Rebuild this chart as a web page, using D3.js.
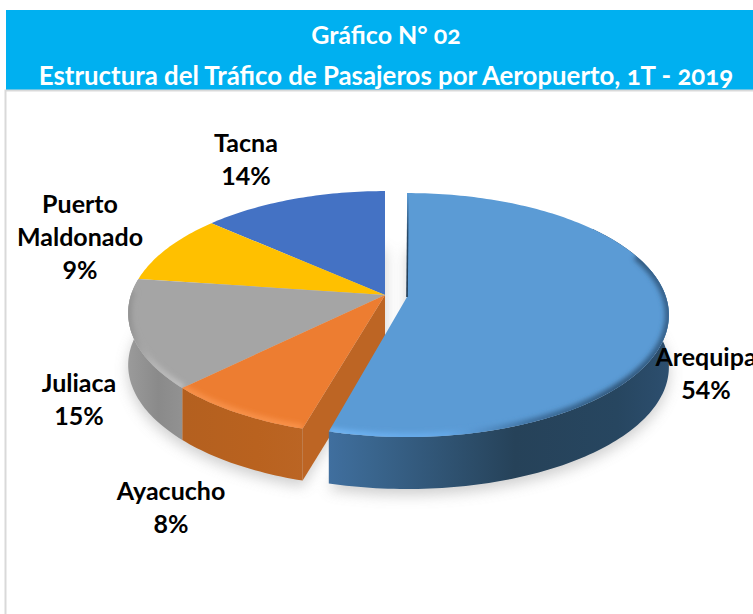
<!DOCTYPE html>
<html><head><meta charset="utf-8">
<script src="https://cdn.jsdelivr.net/npm/d3@7"></script>
<style>html,body{margin:0;padding:0;background:#fff;overflow:hidden}svg{display:block}
text{font-family:Lato,"Open Sans",sans-serif;font-weight:700}</style></head><body>
<script>
const titleLines = ["Gráfico N° 02", "Estructura del Tráfico de Pasajeros por Aeropuerto, 1T - 2019"];
const categories = ["Arequipa", "Ayacucho", "Juliaca", "Puerto Maldonado", "Tacna"];
const shares = [54.49, 8.2, 14.51, 9.3, 13.51];
const topColors = ["#5b9bd5", "#ed7d31", "#a5a5a5", "#ffc000", "#4472c4"];

const W = 753, H = 614;
const svg = d3.select("body").append("svg").attr("width", W).attr("height", H);
const defs = svg.append("defs");
["blur3:2.4", "blur8:7"].forEach(s => {
  const [id, dev] = s.split(":");
  defs.append("filter").attr("id", id).attr("x", "-20%").attr("y", "-20%").attr("width", "140%").attr("height", "140%")
    .append("feGaussianBlur").attr("stdDeviation", dev);
});
function grad(id, x1, x2, stops, y1 = 0, y2 = 0) {
  const g = defs.append("linearGradient").attr("id", id).attr("gradientUnits", "userSpaceOnUse")
    .attr("x1", x1).attr("x2", x2).attr("y1", y1).attr("y2", y2);
  stops.forEach(([o, c, a]) => g.append("stop").attr("offset", o).attr("stop-color", c).attr("stop-opacity", a === undefined ? 1 : a));
}
grad("wall0", 328, 668, [[0, "#406f9f"], [.12, "#3a668f"], [.55, "#264259"], [.85, "#274660"], [1, "#2c4e6e"]]);
grad("wall1", 185, 305, [[0, "#b4601f"], [.6, "#b9621f"], [1, "#bb6524"]]);
grad("wall2", 127, 190, [[0, "#9b9b9b"], [.5, "#8a8a8a"], [1, "#949494"]]);
grad("bevel0", 328, 668, [[0, "#6fb3f2"], [.35, "#64a8e8"], [.6, "#3d6e9c"], [.85, "#2f5578"], [1, "#355f88"]]);
grad("bevel1", 185, 305, [[0, "#f79048"], [1, "#f9924a"]]);
grad("bevel2", 127, 190, [[0, "#8f8f8f"], [.4, "#b5b5b5"], [1, "#c4c4c4"]]);
grad("cutLine", 0, 0, [[0, "#24405a", 0], [.4, "#24405a", .9], [1, "#1f3850", 1]], 193, 297);

const g = svg.append("g");
// page furniture
g.append("rect").attr("x", 6).attr("y", 10).attr("width", W - 6).attr("height", 80).attr("fill", "#00b0f0");
g.append("path").attr("d", `M5.5,${H}V90.5H${W}`).attr("fill", "none").attr("stroke", "#d9d9d9").attr("stroke-width", 2);
g.selectAll("text.title").data(titleLines).join("text").attr("class", "title")
  .attr("x", 386).attr("y", (d, i) => i ? 85 : 44).attr("text-anchor", "middle")
  .attr("fill", "#fff").attr("font-size", (d, i) => i ? 25.8 : 25)
  .style("font-feature-settings", '"onum"').text(d => d);

// tilted disc with mild perspective
const RY = 119.3, PERSP = 0.148, DEPTH = 52;
const sliceCentre = i => i === 0 ? [407, 297, 259] : [385, 295, 254];
function proj(c, a, r = 1, dy = 0) {
  const u = Math.sin(a) * r, v = -Math.cos(a) * r, f = 1 / (1 - PERSP * v);
  return [c[0] + c[2] * u * f, c[1] + RY * v * f + dy];
}
const samples = (a0, a1) => { const n = Math.max(2, Math.ceil(Math.abs(a1 - a0) / 0.02)); return d3.range(n + 1).map(i => a0 + (a1 - a0) * i / n); };
const line = d3.line();
const arcPts = (c, a0, a1, dy = 0) => samples(a0, a1).map(a => proj(c, a, 1, dy));
const slices = d3.pie().sort(null).value(d => d)(shares);
slices[0].endAngle -= 0.02; // small pad on the exploded slice

// soft ground shadow
const shadow = g.append("g").attr("filter", "url(#blur8)").attr("opacity", .42);
slices.forEach((s, i) => {
  const c = sliceCentre(i);
  shadow.append("path").attr("fill", "#8c8c8c")
    .attr("d", line([[c[0], c[1] + DEPTH], ...arcPts(c, s.startAngle, s.endAngle, DEPTH + 6)]) + "Z");
});

function wall(i, a0, a1, fill) {
  const c = sliceCentre(i);
  g.append("path").attr("fill", fill)
    .attr("d", line([...arcPts(c, a0, a1), ...arcPts(c, a0, a1, DEPTH).reverse()]) + "Z");
}
function topFace(i) {
  const s = slices[i], c = sliceCentre(i);
  const d = line([c, ...arcPts(c, s.startAngle, s.endAngle)]) + "Z";
  g.append("clipPath").attr("id", "clip" + i).append("path").attr("d", d);
  g.append("path").attr("d", d).attr("fill", topColors[i]);
  if (i <= 2) {
    const a1 = i === 2 ? Math.min(s.endAngle, 4.75) : s.endAngle;
    g.append("g").attr("clip-path", `url(#clip${i})`).append("path")
      .attr("d", line(arcPts(c, i === 0 ? 1.2 : s.startAngle, a1)))
      .attr("fill", "none").attr("stroke", `url(#bevel${i})`).attr("stroke-width", 8)
      .attr("filter", "url(#blur3)");
  }
}

// minor slices: walls, then their top faces
wall(2, slices[2].startAngle, slices[2].endAngle, "url(#wall2)");
wall(1, slices[1].startAngle, slices[1].endAngle, "url(#wall1)");
{
  const c = sliceCentre(1), a = slices[1].startAngle, p = proj(c, a);
  g.append("path").attr("fill", "#bd6524")
    .attr("d", line([c, p, [p[0], p[1] + DEPTH], [c[0], c[1] + DEPTH]]) + "Z");
}
[4, 3, 2, 1].forEach(topFace);

// Arequipa, exploded slice
wall(0, 0.9, slices[0].endAngle, "url(#wall0)");
topFace(0);
{
  const c = sliceCentre(0), p = proj(c, slices[0].startAngle);
  g.append("path").attr("d", line([[p[0] + 1, p[1]], c])).attr("stroke", "url(#cutLine)").attr("stroke-width", 1.6).attr("fill", "none");
}

// labels
const labelAnchors = [[706, 366], [171, 500], [79, 392], [80, 213], [246, 152]];
const wrapped = ["Arequipa", "Ayacucho", "Juliaca", "Puerto|Maldonado", "Tacna"];
const pct = d3.format(".0%");
categories.forEach((name, i) => {
  const lines = wrapped[i].split("|").concat(pct(shares[i] / 100));
  g.append("text").attr("text-anchor", "middle").attr("font-size", 25).attr("fill", "#000")
    .selectAll("tspan").data(lines).join("tspan")
    .attr("x", labelAnchors[i][0]).attr("y", (d, k) => labelAnchors[i][1] + k * 33).text(d => d);
});
</script></body></html>
